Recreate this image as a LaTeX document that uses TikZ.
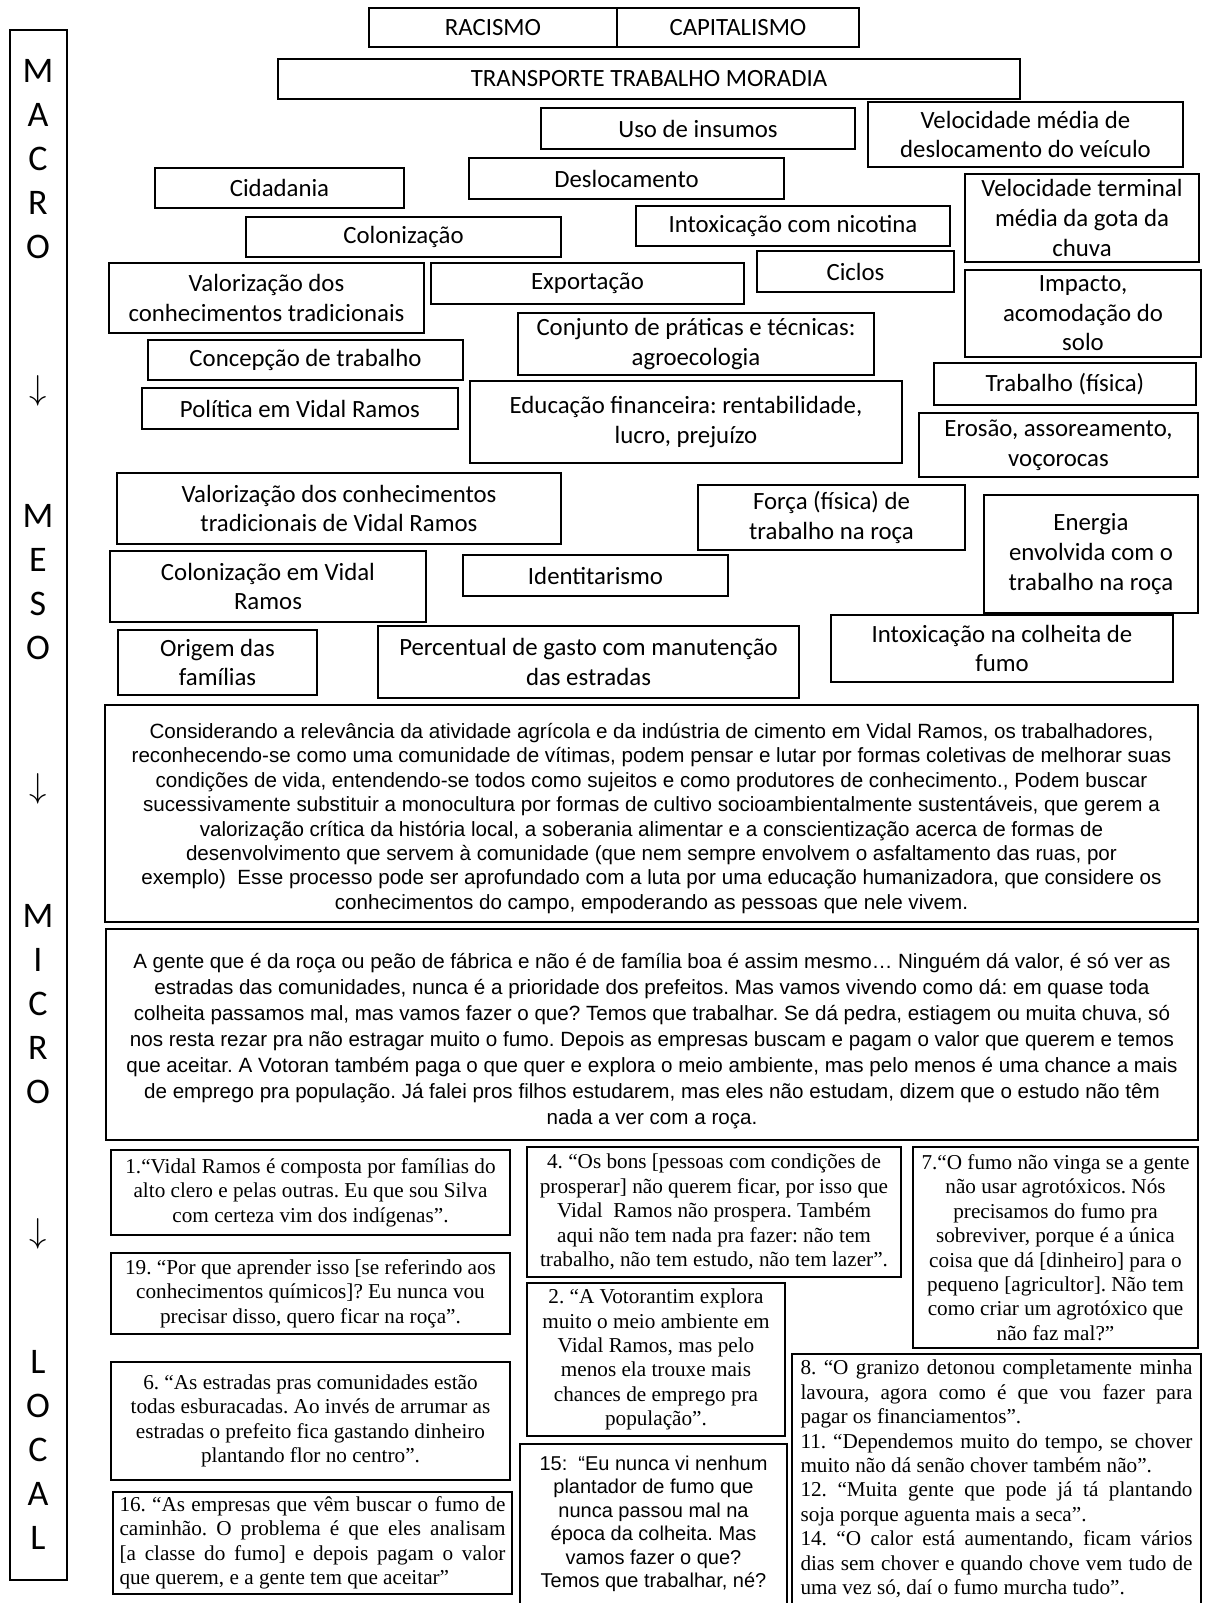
\documentclass[tikz,border=0pt]{standalone}
\usepackage{fontspec}
\setmainfont{Carlito}
\newfontfamily\arialfont{Liberation Sans}
\newfontfamily\timesfont{Liberation Serif}
\frenchspacing

\newcommand{\jline}[2]{\makebox[#1][s]{#2}}
\newcommand{\lline}[2]{\makebox[#1][l]{#2}}

\begin{document}
\begin{tikzpicture}[x=0.5pt,y=-0.5pt,
  dims/.style 2 args={minimum width=#1*0.5pt,minimum height=#2*0.5pt},
  card/.style={draw,line width=0.9pt,inner sep=0pt,align=center,font=\fontsize{12.4}{14.8}\selectfont},
  parabox/.style={card,font=\arialfont\fontsize{10.3}{12.2}\selectfont},
  quote/.style={card,font=\timesfont\fontsize{10.6}{12.2}\selectfont},
  sideword/.style={align=center,inner sep=0pt,font=\fontsize{18}{22}\selectfont}]
  \fill[white] (0,0) rectangle (1208,1603);
  \useasboundingbox (0,0) rectangle (1208,1603);

  % scale on the left
  \node[draw,line width=0.9pt,dims={57}{1550}] (bar) at (38.5,805) {};
  \node[sideword] (macro) at (38,159) {M\\A\\C\\R\\O};
  \node[sideword] (arrowa) at (38,391) {$\downarrow$};
  \node[sideword] (meso) at (38,582) {M\\E\\S\\O};
  \node[sideword] (arrowb) at (38,789) {$\downarrow$};
  \node[sideword] (micro) at (38,1004) {M\\I\\C\\R\\O};
  \node[sideword] (arrowc) at (38,1234) {$\downarrow$};
  \node[sideword] (local) at (38,1450) {L\\O\\C\\A\\L};

  % themes
  \node[card,dims={248}{39}] (racismo) at (493,27.5) {RACISMO};
  \node[card,dims={242}{39}] (capitalismo) at (738,27.5) {CAPITALISMO};
  \node[card,dims={742}{40}] (tripe) at (649,79) {TRANSPORTE TRABALHO MORADIA};
  \node[card,dims={314}{41}] (insumos) at (698,128.5) {Uso de insumos};
  \node[card,dims={315}{65}] (velveiculo) at (1025.5,134.5) {Velocidade média de\\deslocamento do veículo};
  \node[card,dims={315}{41}] (deslocamento) at (626.5,178.5) {Deslocamento};
  \node[card,dims={249}{40}] (cidadania) at (279.5,188) {Cidadania};
  \node[card,dims={234}{88}] (velgota) at (1082,218) {Velocidade terminal\\média da gota da\\chuva};
  \node[card,dims={314}{40}] (nicotina) at (793,226) {Intoxicação com nicotina};
  \node[card,dims={315}{40}] (colonizacao) at (403.5,237) {Colonização};
  \node[card,dims={315}{70}] (valorizacao) at (266.5,298) {Valorização dos\\conhecimentos tradicionais};
  \node[card,dims={313}{41}] (exportacao) at (587.5,283.5) {Exportação};
  \node[card,dims={197}{41}] (ciclos) at (855.5,271.5) {Ciclos};
  \node[card,dims={236}{87}] (impacto) at (1083,313.5) {Impacto,\\acomodação do\\solo};
  \node[card,dims={356}{62}] (agroecologia) at (696,344) {Conjunto de práticas e técnicas:\\agroecologia};
  \node[card,dims={315}{40}] (concepcao) at (305.5,360) {Concepção de trabalho};
  \node[card,dims={262}{42}] (trabalho) at (1065,384) {Trabalho (física)};
  \node[card,dims={316}{41}] (politica) at (300,408.5) {Política em Vidal Ramos};
  \node[card,dims={432}{82}] (financeira) at (686,422) {Educação financeira: rentabilidade,\\lucro, prejuízo};
  \node[card,dims={279}{64}] (erosao) at (1058.5,445) {Erosão, assoreamento,\\voçorocas};
  \node[card,dims={444}{71}] (valorizacaovr) at (339,508.5) {Valorização dos conhecimentos\\tradicionais de Vidal Ramos};
  \node[card,dims={267}{65}] (forca) at (831.5,517.5) {Força (física) de\\trabalho na roça};
  \node[card,dims={214}{118}] (energia) at (1091,554) {Energia\\envolvida com o\\trabalho na roça};
  \node[card,dims={316}{71}] (colonizacaovr) at (268,586.5) {Colonização em Vidal\\Ramos};
  \node[card,dims={265}{41}] (identitarismo) at (595.5,575.5) {Identitarismo};
  \node[card,dims={199}{65}] (origem) at (217.5,662.5) {Origem das\\famílias};
  \node[card,dims={421}{72}] (percentual) at (588.5,662) {Percentual de gasto com manutenção\\das estradas};
  \node[card,dims={342}{67}] (colheita) at (1002,648.5) {Intoxicação na colheita de\\fumo};

  % syntheses
  \node[parabox,dims={1093}{217}] (sintese) at (651.5,813.5) {};
  \node[align=center,inner sep=0pt,font=\arialfont\fontsize{10.3}{12.2}\selectfont] (sintesetext) at (651.5,818.5) {Considerando a relevância da atividade agrícola e da indústria de cimento em Vidal Ramos, os trabalhadores,\\reconhecendo-se como uma comunidade de vítimas, podem pensar e lutar por formas coletivas de melhorar suas\\condições de vida, entendendo-se todos como sujeitos e como produtores de conhecimento., Podem buscar\\sucessivamente substituir a monocultura por formas de cultivo socioambientalmente sustentáveis, que gerem a\\valorização crítica da história local, a soberania alimentar e a conscientização acerca de formas de\\desenvolvimento que servem à comunidade (que nem sempre envolvem o asfaltamento das ruas, por\\exemplo)\ \ Esse processo pode ser aprofundado com a luta por uma educação humanizadora, que considere os\\conhecimentos do campo, empoderando as pessoas que nele vivem.};
  \node[parabox,dims={1092}{211}] (fala) at (652,1034.5) {};
  \node[align=center,inner sep=0pt,font=\arialfont\fontsize{10.3}{13}\selectfont] (falatext) at (652,1041) {A gente que é da roça ou peão de fábrica e não é de família boa é assim mesmo… Ninguém dá valor, é só ver as\\estradas das comunidades, nunca é a prioridade dos prefeitos. Mas vamos vivendo como dá: em quase toda\\colheita passamos mal, mas vamos fazer o que? Temos que trabalhar. Se dá pedra, estiagem ou muita chuva, só\\nos resta rezar pra não estragar muito o fumo. Depois as empresas buscam e pagam o valor que querem e temos\\que aceitar. A Votoran também paga o que quer e explora o meio ambiente, mas pelo menos é uma chance a mais\\de emprego pra população. Já falei pros filhos estudarem, mas eles não estudam, dizem que o estudo não têm\\nada a ver com a roça.};

  % quotes
  \node[quote,dims={399}{85}] (q1) at (310.5,1192.5) {1.“Vidal Ramos é composta por famílias do\\alto clero e pelas outras. Eu que sou Silva\\com certeza vim dos indígenas”.};
  \node[quote,dims={399}{81}] (q19) at (310.5,1293.5) {19. “Por que aprender isso [se referindo aos\\conhecimentos químicos]? Eu nunca vou\\precisar disso, quero ficar na roça”.};
  \node[quote,dims={399}{118}] (q6) at (310.5,1421) {6. “As estradas pras comunidades estão\\todas esburacadas. Ao invés de arrumar as\\estradas o prefeito fica gastando dinheiro\\plantando flor no centro”.};
  \node[quote,dims={399}{102}] (q16) at (312.5,1543) {\jline{193pt}{16. “As empresas que vêm buscar o fumo de}\\\jline{193pt}{caminhão. O problema é que eles analisam}\\\jline{193pt}{[a classe do fumo] e depois pagam o valor}\\\lline{193pt}{que querem, e a gente tem que aceitar”}};
  \node[quote,dims={374}{130}] (q4) at (714,1212) {4. “Os bons [pessoas com condições de\\prosperar] não querem ficar, por isso que\\Vidal\ \ Ramos não prospera. Também\\aqui não tem nada pra fazer: não tem\\trabalho, não tem estudo, não tem lazer”.};
  \node[quote,dims={258}{153}] (q2) at (656,1359.5) {2. “A Votorantim explora\\muito o meio ambiente em\\Vidal Ramos, mas pelo\\menos ela trouxe mais\\chances de emprego pra\\população”.};
  \node[quote,dims={285}{201}] (q7) at (1055.5,1247.5) {7.“O fumo não vinga se a gente\\não usar agrotóxicos. Nós\\precisamos do fumo pra\\sobreviver, porque é a única\\coisa que dá [dinheiro] para o\\pequeno [agricultor]. Não tem\\como criar um agrotóxico que\\não faz mal?”};
  \node[quote,draw=none,font=\arialfont\fontsize{10}{11.75}\selectfont,dims={265}{158}] (q15) at (653.5,1524) {15:\ \ “Eu nunca vi nenhum\\plantador de fumo que\\nunca passou mal na\\época da colheita. Mas\\vamos fazer o que?\\Temos que trabalhar, né?};
  \draw[line width=0.9pt] (q15.south west) -- (q15.north west) -- (q15.north east) -- (q15.south east);
  \node[quote,draw=none,dims={407}{248}] (q8) at (996.5,1479) {\jline{196pt}{8. “O granizo detonou completamente minha}\\\jline{196pt}{lavoura, agora como é que vou fazer para}\\\lline{196pt}{pagar os financiamentos”.}\\\jline{196pt}{11. “Dependemos muito do tempo, se chover}\\\lline{196pt}{muito não dá senão chover também não”.}\\\jline{196pt}{12. “Muita gente que pode já tá plantando}\\\lline{196pt}{soja porque aguenta mais a seca”.}\\\jline{196pt}{14. “O calor está aumentando, ficam vários}\\\jline{196pt}{dias sem chover e quando chove vem tudo de}\\\lline{196pt}{uma vez só, daí o fumo murcha tudo”.}};
  \draw[line width=0.9pt] (q8.south west) -- (q8.north west) -- (q8.north east) -- (q8.south east);
\end{tikzpicture}
\end{document}
